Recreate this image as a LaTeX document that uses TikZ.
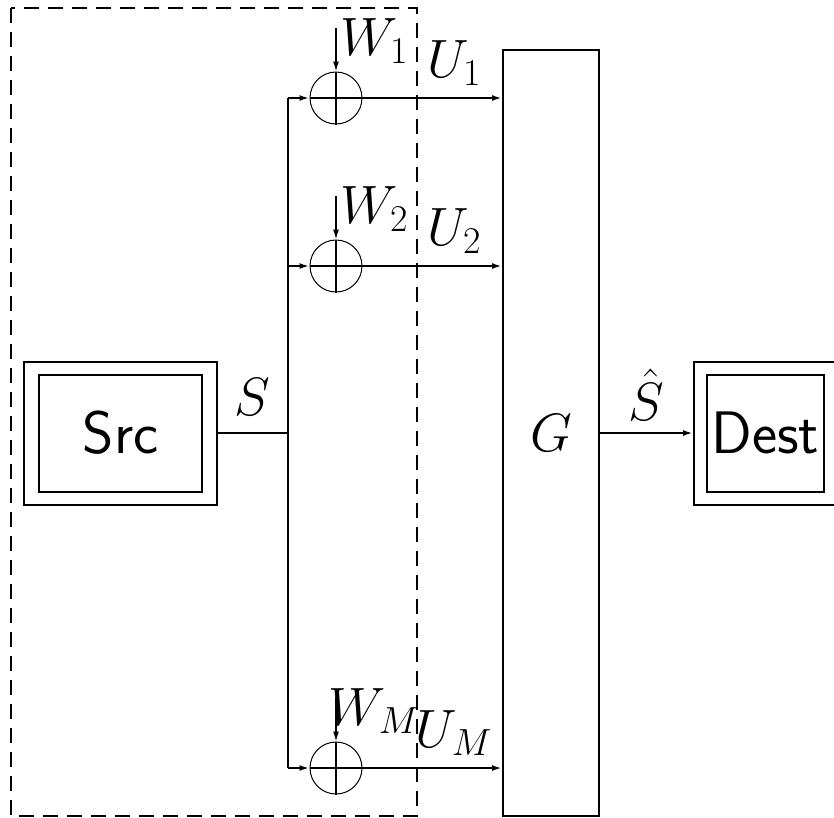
\documentclass[tikz,border=0pt]{standalone}
\usepackage{fix-cm}
\usetikzlibrary{arrows.meta}
\begin{document}
\begin{tikzpicture}[x=1pt,y=-1pt,
  every node/.style={font=\fontsize{54}{60}\selectfont},
  ln/.style={line width=2pt},
  arr/.style={line width=2pt,-{Latex[length=10pt,width=6pt]}},
  box/.style={draw,line width=2pt,inner sep=0pt},
  sbox/.style={box,font=\fontsize{60}{66}\selectfont\sffamily},
  adder/.style={draw,circle,line width=1pt,minimum size=52pt,inner sep=0pt},
  lbl/.style={anchor=base,inner sep=0pt}]
\useasboundingbox (0,0) rectangle (834,817);
% dashed region
\draw[ln,dash pattern=on 15pt off 9pt] (11,8) rectangle (417,816);
% source
\node[box,minimum width=193pt,minimum height=143pt] (srcout) at (120.5,433) {};
\node[sbox,minimum width=163pt,minimum height=117pt] (src) at (120.5,433) {Src};
% destination
\node[box,minimum width=146pt,minimum height=143pt] (dstout) at (767,433) {};
\node[sbox,minimum width=117pt,minimum height=117pt] (dst) at (765.5,433) {Dest};
% G block
\node[box,minimum width=96pt,minimum height=766pt] (g) at (551,433) {$G$};
% bus
\coordinate (j) at (288,433);
\coordinate (b1) at (288,98);
\coordinate (b2) at (288,266);
\coordinate (bm) at (288,768);
\draw[ln] (srcout.east |- j) -- (j);
\draw[ln] (b1) -- (bm);
\node[lbl] (slbl) at (252,415) {$S$};
% adders
\foreach \n/\y/\s in {1/98/1,2/266/2,m/768/M}{
  \node[adder] (a\n) at (336,\y) {};
  \coordinate (w\n) at (336,\y-70);
  \draw[line width=1.3pt] (a\n.north) -- (a\n.south);
  \draw[arr] (b\n) -- (a\n.west);
  \draw[ln] (a\n.west) -- (a\n.east);
  \draw[arr] (a\n.east) -- (a\n -| g.west);
  \draw[line width=1.3pt,-{Latex[length=10pt,width=6pt]}] (w\n) -- (a\n.north);
  \node[lbl] (wl\n) at (374,\y-43) {$W_{\s}$};
  \node[lbl] (ul\n) at (454,\y-21) {$U_{\s}$};
}
% output
\draw[arr] (g.east |- j) -- (dstout.west |- j);
\node[lbl] (shat) at (646,420) {$\hat{S}$};
\end{tikzpicture}
\end{document}
